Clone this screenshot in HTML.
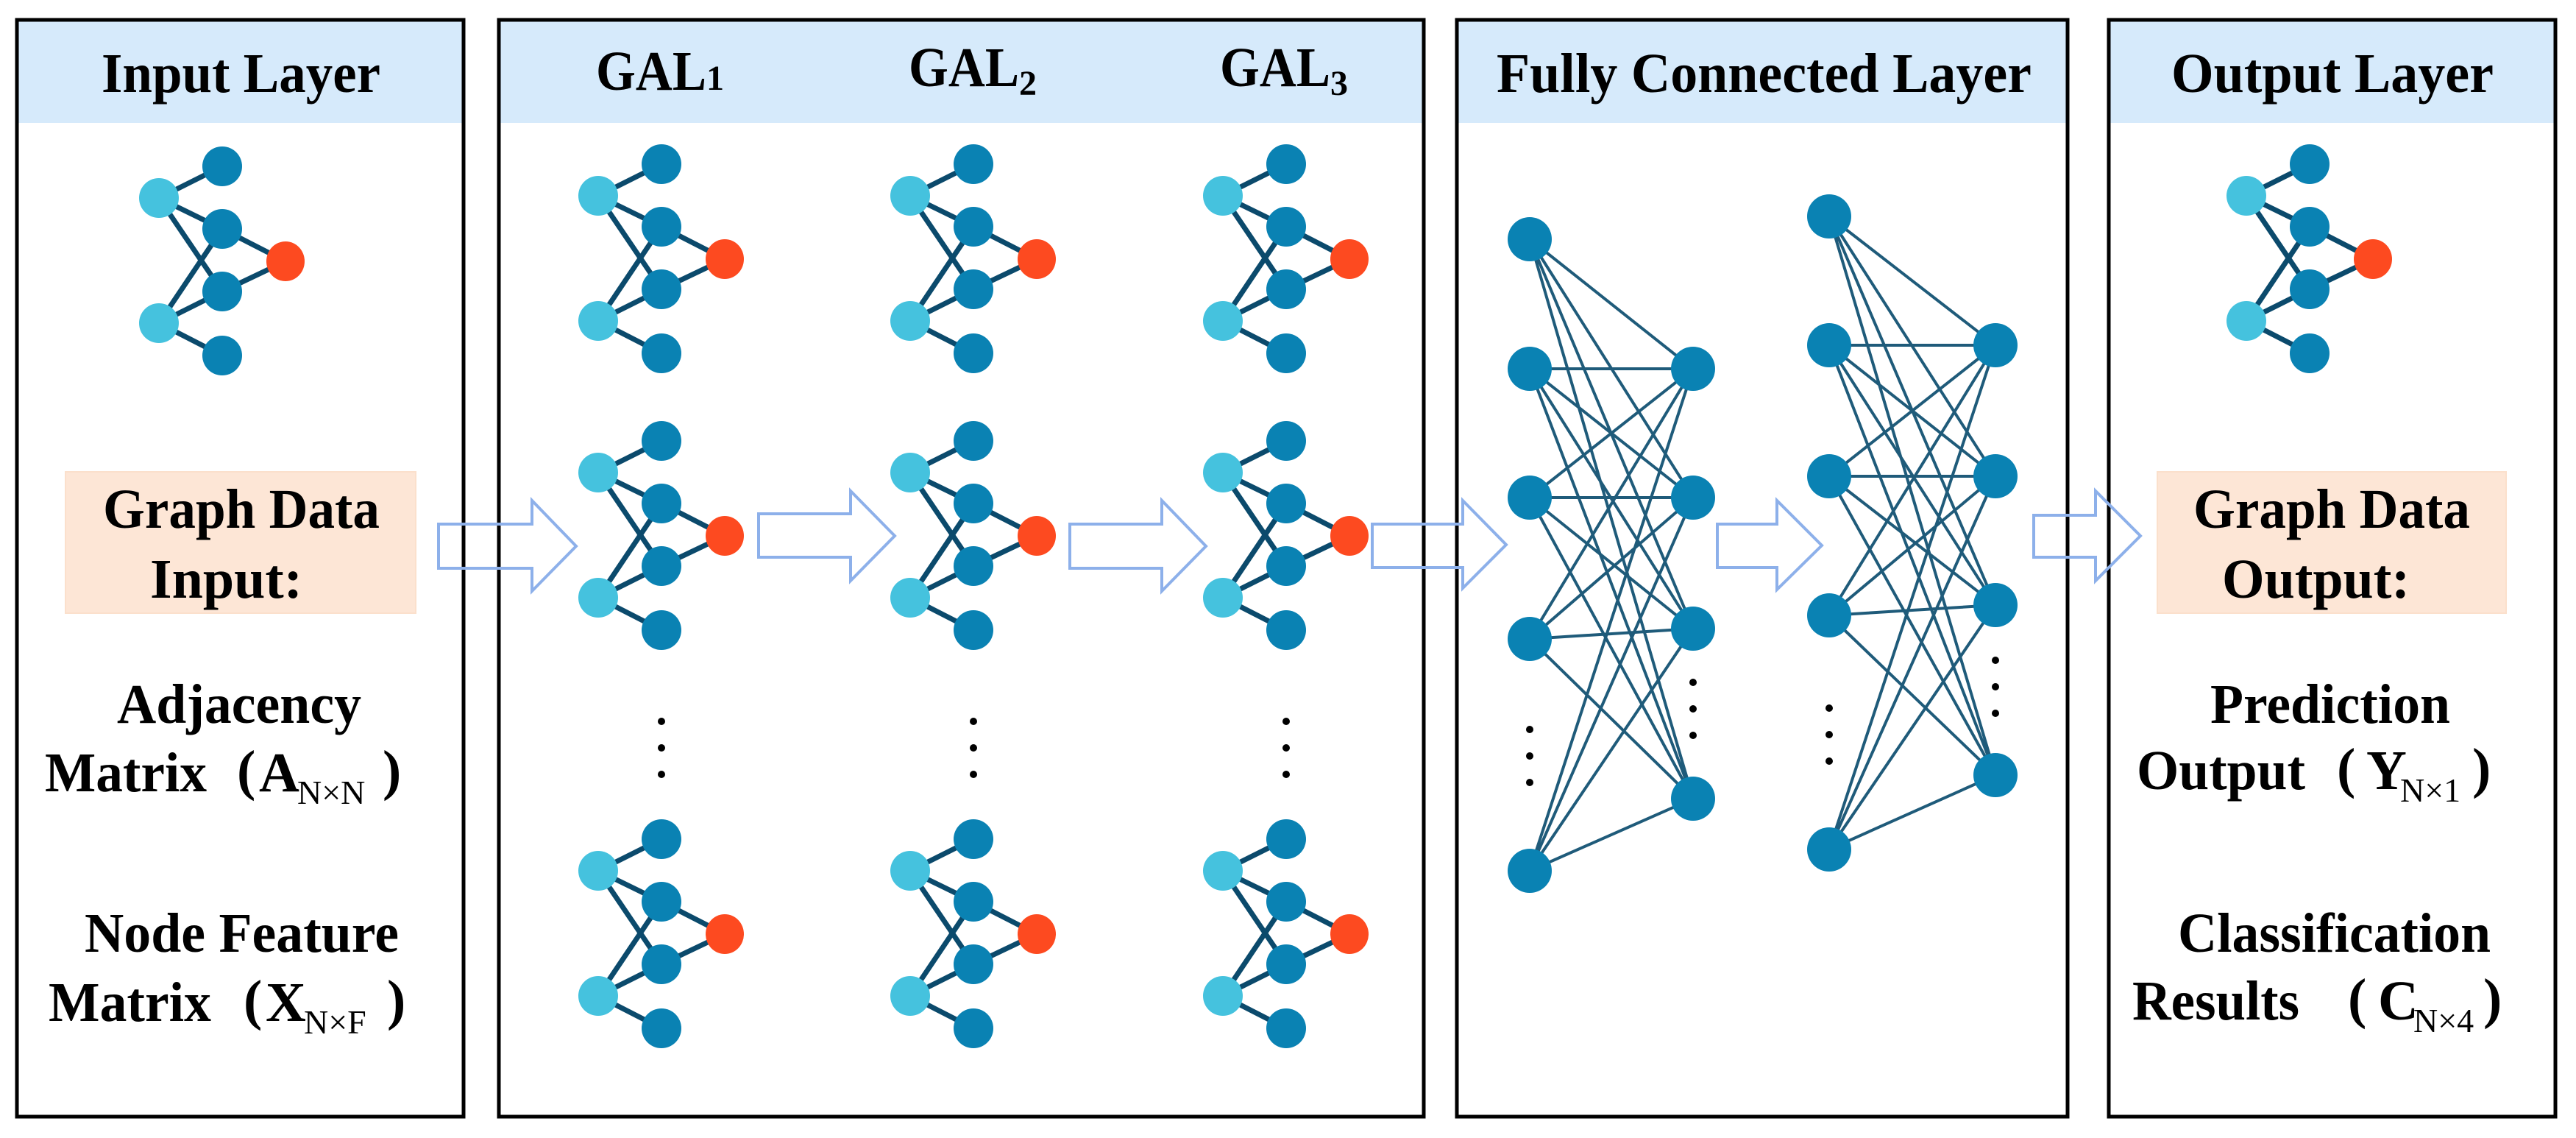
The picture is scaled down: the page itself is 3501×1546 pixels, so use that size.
<!DOCTYPE html>
<html><head><meta charset="utf-8"><style>
html,body{margin:0;padding:0;background:#fff}
svg{display:block}
svg text{font-family:"Liberation Serif","Noto Serif CJK SC","DejaVu Serif",serif;font-weight:bold;fill:#000}
svg text.s{font-size:46px;font-weight:normal}
</style></head><body>
<svg width="3501" height="1546" viewBox="0 0 3501 1546" xmlns="http://www.w3.org/2000/svg">
<defs>
<g id="ic">
<g stroke="#0b4a6c" stroke-width="7" stroke-linecap="round">
<line x1="0" y1="0" x2="86" y2="-43"/><line x1="0" y1="0" x2="86" y2="42"/><line x1="0" y1="0" x2="86" y2="127"/>
<line x1="0" y1="170" x2="86" y2="42"/><line x1="0" y1="170" x2="86" y2="127"/><line x1="0" y1="170" x2="86" y2="214"/>
<line x1="86" y1="42" x2="172" y2="86"/><line x1="86" y1="127" x2="172" y2="86"/>
</g>
<circle cx="0" cy="0" r="27" fill="#45c2de"/><circle cx="0" cy="170" r="27" fill="#45c2de"/>
<circle cx="86" cy="-43" r="27" fill="#0a82b3"/><circle cx="86" cy="42" r="27" fill="#0a82b3"/>
<circle cx="86" cy="127" r="27" fill="#0a82b3"/><circle cx="86" cy="214" r="27" fill="#0a82b3"/>
<ellipse cx="172" cy="86" rx="26" ry="27" fill="#fd4a20"/>
</g>
<g id="dots" fill="#000"><circle cx="0" cy="0" r="5"/><circle cx="0" cy="36" r="5"/><circle cx="0" cy="72" r="5"/></g>
</defs>

<g fill="#d6eafb">
<rect x="25" y="29" width="603" height="138"/>
<rect x="680" y="29" width="1253" height="138"/>
<rect x="1982" y="29" width="826" height="138"/>
<rect x="2868" y="29" width="603" height="138"/>
</g>
<g fill="none" stroke="#000" stroke-width="5">
<rect x="23" y="27" width="607" height="1490"/>
<rect x="678" y="27" width="1257" height="1490"/>
<rect x="1980" y="27" width="830" height="1490"/>
<rect x="2866" y="27" width="607" height="1490"/>
</g>

<g font-size="76">
<text x="138" y="125" textLength="379" lengthAdjust="spacingAndGlyphs">Input Layer</text>
<text x="2034" y="125" textLength="727" lengthAdjust="spacingAndGlyphs">Fully Connected Layer</text>
<text x="2951" y="125" textLength="438" lengthAdjust="spacingAndGlyphs">Output Layer</text>
<text x="810" y="122"><tspan textLength="150" lengthAdjust="spacingAndGlyphs">GAL</tspan><tspan font-size="48">1</tspan></text>
<text x="1235" y="117"><tspan textLength="150" lengthAdjust="spacingAndGlyphs">GAL</tspan><tspan font-size="48" dy="12">2</tspan></text>
<text x="1658" y="117"><tspan textLength="150" lengthAdjust="spacingAndGlyphs">GAL</tspan><tspan font-size="48" dy="12">3</tspan></text>
</g>

<rect x="89" y="641" width="476" height="192" fill="#fde6d6" stroke="#fbe0cc" stroke-width="2"/>
<rect x="2932" y="641" width="474" height="192" fill="#fde6d6" stroke="#fbe0cc" stroke-width="2"/>
<g font-size="76">
<text x="140" y="717" textLength="376" lengthAdjust="spacingAndGlyphs">Graph Data</text>
<text x="204" y="812" textLength="207" lengthAdjust="spacingAndGlyphs">Input:</text>
<text x="2981" y="717" textLength="376" lengthAdjust="spacingAndGlyphs">Graph Data</text>
<text x="3020" y="812" textLength="255" lengthAdjust="spacingAndGlyphs">Output:</text>
<text x="159" y="982" textLength="332" lengthAdjust="spacingAndGlyphs">Adjacency</text>
<text x="115" y="1293" textLength="427" lengthAdjust="spacingAndGlyphs">Node Feature</text>
<text x="3004" y="982" textLength="326" lengthAdjust="spacingAndGlyphs">Prediction</text>
<text x="2960" y="1293" textLength="425" lengthAdjust="spacingAndGlyphs">Classification</text>

<text x="61" y="1075" textLength="220" lengthAdjust="spacingAndGlyphs">Matrix</text><text x="322" y="1072">(</text><text x="352" y="1075">A</text><text class="s" x="404" y="1092">N×N</text><text x="520" y="1072">)</text>
<text x="66" y="1387" textLength="221" lengthAdjust="spacingAndGlyphs">Matrix</text><text x="331" y="1384">(</text><text x="361" y="1387">X</text><text class="s" x="413" y="1404">N×F</text><text x="526" y="1384">)</text>
<text x="2904" y="1072" textLength="229" lengthAdjust="spacingAndGlyphs">Output</text><text x="3176" y="1069">(</text><text x="3216" y="1072">Y</text><text class="s" x="3262" y="1089">N×1</text><text x="3360" y="1069">)</text>
<text x="2898" y="1385" textLength="227" lengthAdjust="spacingAndGlyphs">Results</text><text x="3191" y="1382">(</text><text x="3232" y="1385">C</text><text class="s" x="3280" y="1402">N×4</text><text x="3375" y="1382">)</text>
</g>

<g fill="none" stroke="#8db0ea" stroke-width="4">
<path d="M596 712 H723 V680 L783 742 L723 803 V772 H596 Z"/>
<path d="M1031 698 H1156 V667 L1216 728 L1156 789 V757 H1031 Z"/>
<path d="M1454 712 H1579 V680 L1639 742 L1579 803 V772 H1454 Z"/>
<path d="M1865 712 H1988 V680 L2047 740 L1988 799 V771 H1865 Z"/>
<path d="M2334 712 H2415 V680 L2476 741 L2415 801 V771 H2334 Z"/>
<path d="M2764 700 H2848 V667 L2909 728 L2848 789 V757 H2764 Z"/>
</g>

<use href="#ic" x="216" y="269"/>
<use href="#ic" x="813" y="266"/><use href="#ic" x="813" y="642"/><use href="#ic" x="813" y="1183"/>
<use href="#ic" x="1237" y="266"/><use href="#ic" x="1237" y="642"/><use href="#ic" x="1237" y="1183"/>
<use href="#ic" x="1662" y="266"/><use href="#ic" x="1662" y="642"/><use href="#ic" x="1662" y="1183"/>
<use href="#ic" x="3053" y="266"/>
<use href="#dots" x="899" y="980"/><use href="#dots" x="1323" y="980"/><use href="#dots" x="1748" y="980"/>

<g stroke="#1f5b7a" stroke-width="4">
<path d="M2079 325L2301 501M2079 325L2301 676M2079 325L2301 854M2079 325L2301 1085
M2079 501L2301 501M2079 501L2301 676M2079 501L2301 854M2079 501L2301 1085
M2079 676L2301 501M2079 676L2301 676M2079 676L2301 854M2079 676L2301 1085
M2079 868L2301 501M2079 868L2301 676M2079 868L2301 854M2079 868L2301 1085
M2079 1183L2301 501M2079 1183L2301 676M2079 1183L2301 854M2079 1183L2301 1085
M2486 294L2712 469M2486 294L2712 647M2486 294L2712 822M2486 294L2712 1053
M2486 469L2712 469M2486 469L2712 647M2486 469L2712 822M2486 469L2712 1053
M2486 647L2712 469M2486 647L2712 647M2486 647L2712 822M2486 647L2712 1053
M2486 836L2712 469M2486 836L2712 647M2486 836L2712 822M2486 836L2712 1053
M2486 1154L2712 469M2486 1154L2712 647M2486 1154L2712 822M2486 1154L2712 1053"/>
</g>
<g fill="#0a82b3">
<circle cx="2079" cy="325" r="30"/><circle cx="2079" cy="501" r="30"/><circle cx="2079" cy="676" r="30"/><circle cx="2079" cy="868" r="30"/><circle cx="2079" cy="1183" r="30"/>
<circle cx="2301" cy="501" r="30"/><circle cx="2301" cy="676" r="30"/><circle cx="2301" cy="854" r="30"/><circle cx="2301" cy="1085" r="30"/>
<circle cx="2486" cy="294" r="30"/><circle cx="2486" cy="469" r="30"/><circle cx="2486" cy="647" r="30"/><circle cx="2486" cy="836" r="30"/><circle cx="2486" cy="1154" r="30"/>
<circle cx="2712" cy="469" r="30"/><circle cx="2712" cy="647" r="30"/><circle cx="2712" cy="822" r="30"/><circle cx="2712" cy="1053" r="30"/>
</g>
<use href="#dots" x="2079" y="991"/><use href="#dots" x="2301" y="927"/><use href="#dots" x="2486" y="962"/><use href="#dots" x="2712" y="897"/>
</svg>
</body></html>
